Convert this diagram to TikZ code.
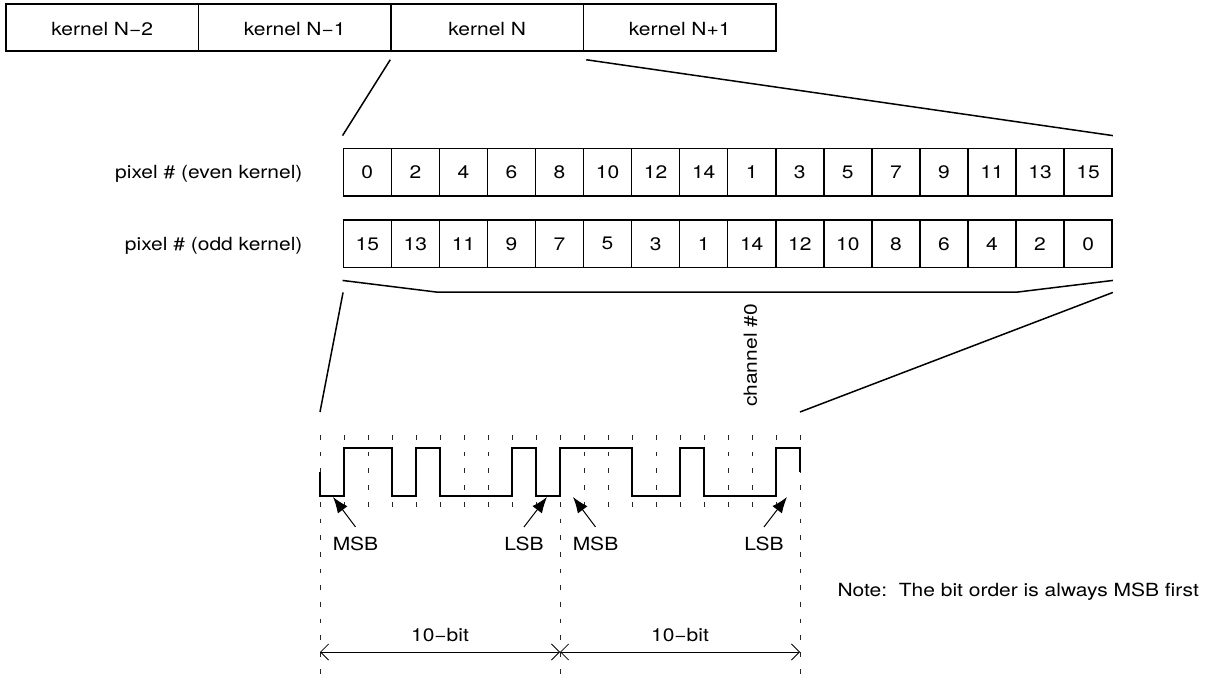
\documentclass[tikz,border=0pt]{standalone}
\usepackage{fontspec}
\setmainfont{TeX Gyre Heros}[FakeStretch=1.16]
\usetikzlibrary{arrows.meta,calc}
\begin{document}
\begin{tikzpicture}[x=1pt,y=-1pt,
  font=\fontsize{18.1}{21.5}\selectfont,
  kbox/.style={draw, line width=1.5pt, minimum width=192.5pt, minimum height=47pt, inner sep=0pt, text height=17pt, text depth=0pt},
  cell/.style={draw, line width=1.5pt, minimum width=48.05pt, minimum height=47.7pt, inner sep=0pt},
  link/.style={line width=1.5pt},
  gridline/.style={line width=0.9pt, black!85, dash pattern=on 4.7pt off 12pt},
  wave/.style={line width=2pt, line join=miter},
  ptr/.style={line width=1pt, -{Latex[length=16pt,width=12pt]}},
  dimline/.style={line width=0.8pt, {Straight Barb[length=8pt,width=16pt]}-{Straight Barb[length=8pt,width=16pt]}}
]
\useasboundingbox (0,0) rectangle (1213,679);

% kernel boxes
\node[kbox] (k1) at (102.25,27.5) {kernel N−2};
\node[kbox] (k2) at (294.75,27.5) {kernel N−1};
\node[kbox] (k3) at (487.25,27.5) {kernel N};
\node[kbox] (k4) at (679.75,27.5) {kernel N+1};

% pixel rows
\foreach \v [count=\i from 0] in {0,2,4,6,8,10,12,14,1,3,5,7,9,11,13,15}
  \node[cell] (e\i) at ({343.3+48.05*(\i+0.5)},172.2) {\v};
\foreach \v [count=\i from 0] in {15,13,11,9,7,5,3,1,14,12,10,8,6,4,2,0}
  \node[cell] (o\i) at ({343.3+48.05*(\i+0.5)},243.85) {\v};

\node[anchor=base east] (lblE) at (306,179) {pixel \# (even kernel)};
\node[anchor=base east] (lblO) at (306,251) {pixel \# (odd kernel)};

% zoom lines from kernel N
\draw[link] ($(k3.south west)+(0,8)$) -- ($(e0.north west)+(0,-12)$);
\draw[link] ($(k3.south east)+(2,8)$) -- ($(e15.north east)+(0,-12)$);

% bracket below odd row
\coordinate (b1) at (436,292);
\coordinate (b2) at (1018,292);
\draw[link] ($(o0.south west)+(0,12)$) -- (b1) -- (b2) -- ($(o15.south east)+(0,12)$);

% lines down to waveform
\coordinate (w0) at (320,412);
\coordinate (w1) at (800,412);
\draw[link] ($(o0.south west)+(0.5,24)$) -- (w0);
\draw[link] ($(o15.south east)+(0,24)$) -- (w1);

\node[rotate=90] (ch) at (750.5,355.5) {channel \#0};

% grid lines
\foreach \k in {1,...,9,11,12,...,19}
  \draw[gridline] ({320+24*\k},435) -- ({320+24*\k},507.5);
\foreach \k in {0,10,20}
  \draw[gridline] ({320+24*\k},435) -- ({320+24*\k},679);

% waveform
\draw[wave] (320,472) -- (320,496) -- (344,496) -- (344,448) -- (392,448) -- (392,496)
  -- (416,496) -- (416,448) -- (440,448) -- (440,496) -- (512,496) -- (512,448)
  -- (536,448) -- (536,496) -- (560,496) -- (560,448) -- (632,448) -- (632,496)
  -- (680,496) -- (680,448) -- (704,448) -- (704,496) -- (776,496) -- (776,448)
  -- (800,448) -- (800,472);

% MSB / LSB labels and pointers
\node[anchor=base] (msb1) at (355.5,550) {MSB};
\node[anchor=base] (lsb1) at (524,550) {LSB};
\node[anchor=base] (msb2) at (595.5,550) {MSB};
\node[anchor=base] (lsb2) at (764,550) {LSB};
\coordinate (tm1) at (333,497);
\coordinate (tl1) at (547,497);
\coordinate (tm2) at (573,497);
\coordinate (tl2) at (787,497);
\draw[ptr] ($(msb1.north)+(0,-6)$) -- (tm1);
\draw[ptr] ($(lsb1.north)+(0,-6)$) -- (tl1);
\draw[ptr] ($(msb2.north)+(0,-6)$) -- (tm2);
\draw[ptr] ($(lsb2.north)+(0,-6)$) -- (tl2);

% dimension
\coordinate (d0) at (320,652);
\coordinate (d1) at (560,652);
\coordinate (d2) at (800,652);
\draw[dimline] (d0) -- (d1);
\draw[dimline] (d1) -- (d2);
\node[anchor=base] (bits1) at (440,641) {10−bit};
\node[anchor=base] (bits2) at (680,641) {10−bit};

\node[anchor=base west] (note) at (834,596) {Note:\ \ The bit order is always MSB first};
\end{tikzpicture}
\end{document}
